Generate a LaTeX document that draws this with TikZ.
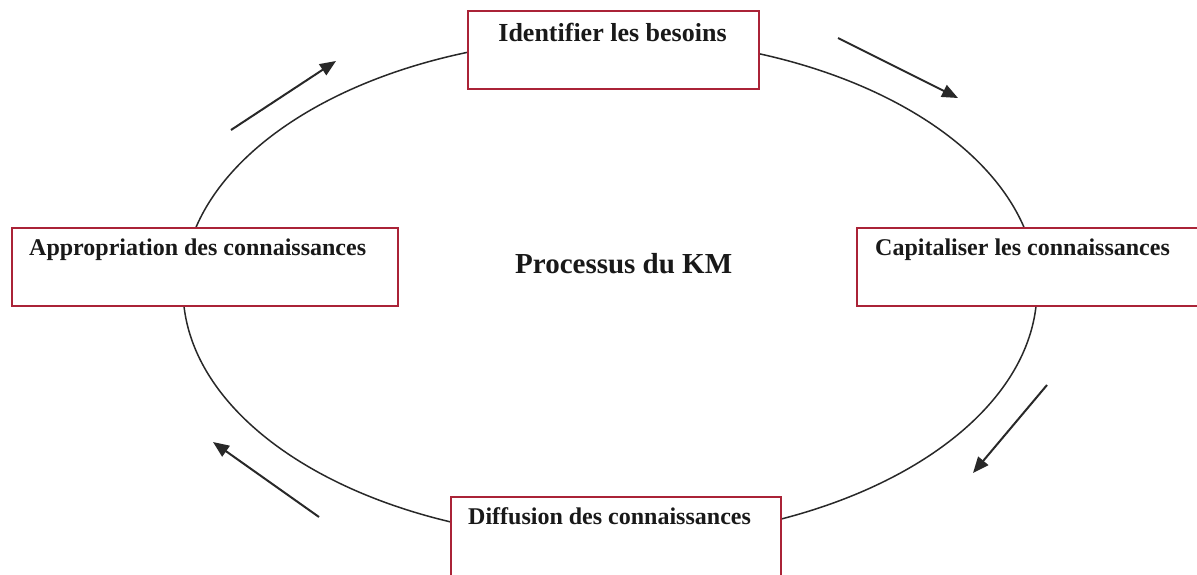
\documentclass[tikz,border=0pt]{standalone}
\usepackage{fontspec}
\setmainfont{Liberation Serif}
\usetikzlibrary{arrows.meta}
\definecolor{boxred}{RGB}{170,35,55}
\definecolor{ringgray}{RGB}{40,40,40}
\begin{document}
\begin{tikzpicture}[x=1pt,y=-1pt,
  stepbox/.style={draw=boxred, line width=1.7pt, fill=white, inner sep=0pt, anchor=north west},
  steptext/.style={font=\bfseries\fontsize{24}{28}\selectfont, text=black!90, anchor=base west, inner sep=0pt},
  flow/.style={line width=2pt, draw=ringgray, -{Triangle[length=16pt,width=13pt]}}]
\useasboundingbox (0,0) rectangle (1197,574);
\fill[white] (0,0) rectangle (1197,574);

% the KM cycle
\draw[line width=1.5pt, ringgray] (610,289) ellipse [x radius=427, y radius=251];

% the four stages
\node[stepbox, minimum width=291, minimum height=78] (needs) at (467,10) {};
\node[steptext, font=\bfseries\fontsize{26}{30}\selectfont, anchor=base] (needsT) at (612.5,41) {Identifier les besoins};

\node[stepbox, minimum width=386, minimum height=78] (approp) at (11,227) {};
\node[steptext] (appropT) at (29,255) {Appropriation des connaissances};

\node[stepbox, minimum width=360, minimum height=78] (capit) at (856,227) {};
\node[steptext] (capitT) at (875,255) {Capitaliser les connaissances};

\node[stepbox, minimum width=330, minimum height=100] (diffus) at (450,496) {};
\node[steptext] (diffusT) at (468,524) {Diffusion des connaissances};

% title in the middle
\node[font=\bfseries\fontsize{29}{34}\selectfont, text=black!90, anchor=base west, inner sep=0pt] (title) at (515,273) {Processus du KM};

% direction of travel
\coordinate (a1s) at (231,130); \coordinate (a1e) at (336,61);
\coordinate (a2s) at (838,38);  \coordinate (a2e) at (958,98);
\coordinate (a3s) at (1047,385); \coordinate (a3e) at (973,473);
\coordinate (a4s) at (319,517); \coordinate (a4e) at (213,442);
\draw[flow] (a1s) -- (a1e);
\draw[flow] (a2s) -- (a2e);
\draw[flow] (a3s) -- (a3e);
\draw[flow] (a4s) -- (a4e);
\end{tikzpicture}
\end{document}
